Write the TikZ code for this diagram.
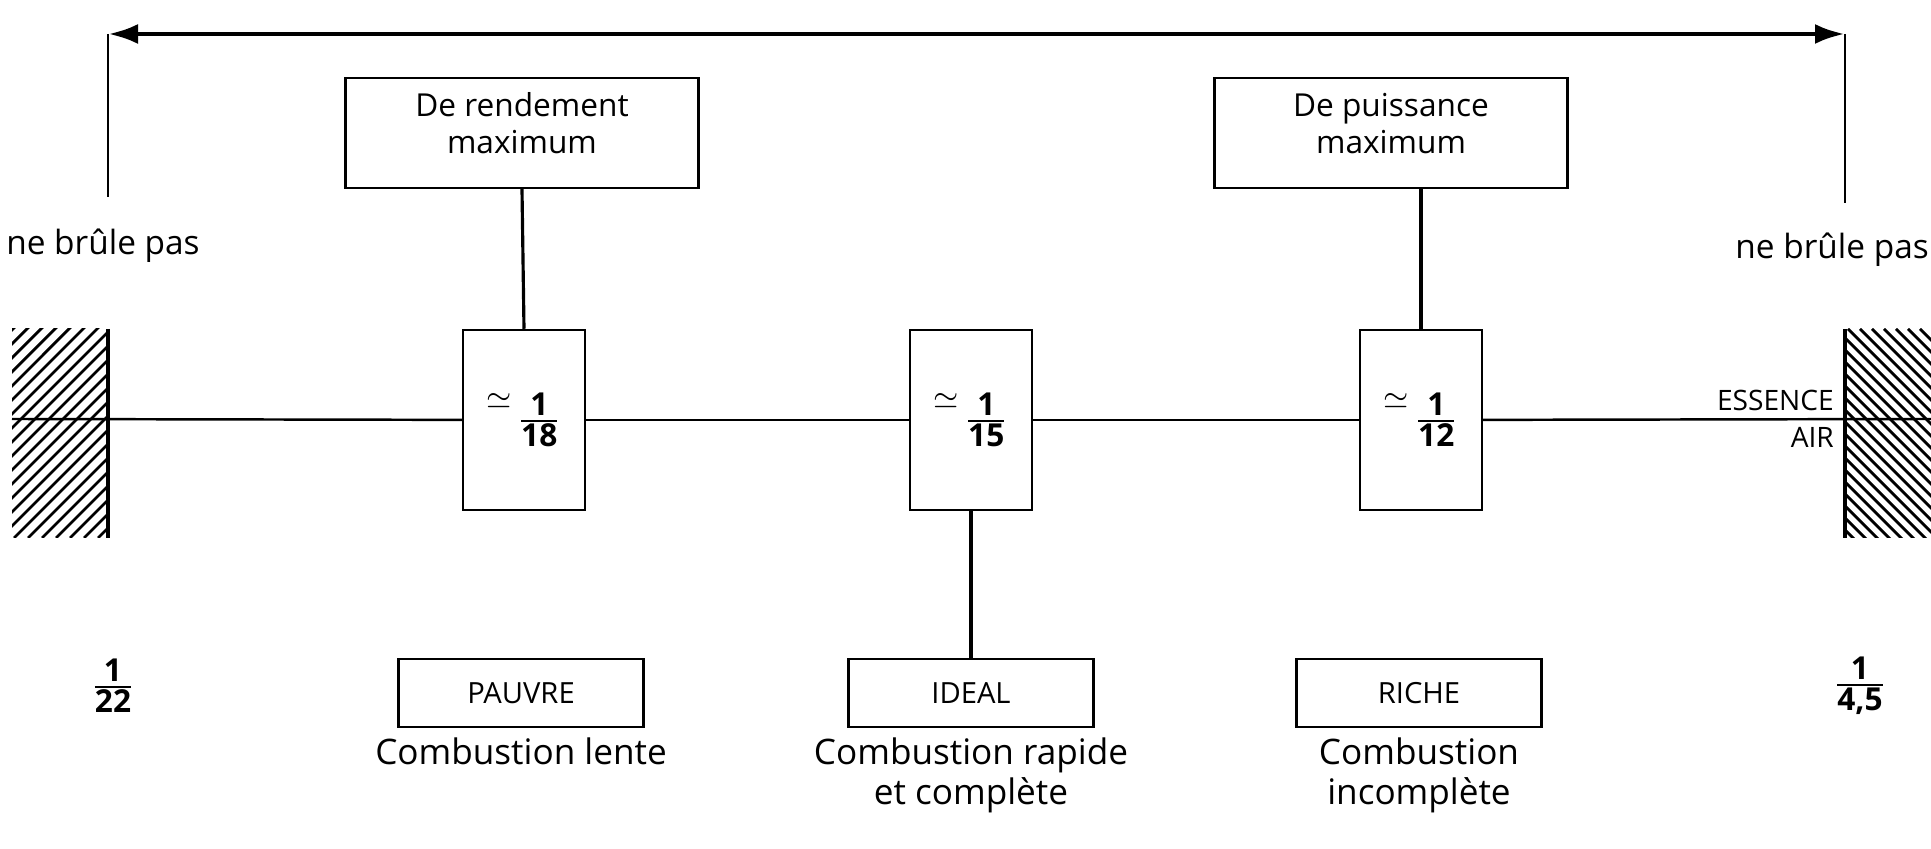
\documentclass[tikz,border=0pt]{standalone}
\usepackage{fontspec}
\setmainfont{Open Sans}
\usepackage{amsmath}
\usetikzlibrary{arrows.meta, positioning}

\newcommand{\mixfrac}[2]{$\genfrac{}{}{0.6pt}{1}{\hbox{\bfseries #1}}{\hbox{\bfseries #2}}$}

\begin{document}
\begin{tikzpicture}[x=0.1mm, y=-0.1mm, line width=0.7pt,
    every node/.style={font=\fontsize{9.5}{11}\selectfont},
    topbox/.style={draw, minimum width=35.3mm, minimum height=11mm, align=center,
        text depth=2mm, font=\fontsize{9}{10.5}\selectfont},
    ratiobox/.style={draw, minimum width=12.2mm, minimum height=18mm, inner sep=0pt,
        font=\fontsize{9}{10}\selectfont},
    mixbox/.style={draw, minimum width=24.5mm, minimum height=6.8mm,
        font=\fontsize{8.3}{9}\selectfont},
    caption/.style={align=center, inner sep=0pt, font=\fontsize{10}{11.5}\selectfont},
    caps/.style={anchor=east, inner sep=0pt, font=\fontsize{8}{9}\selectfont},
    link/.style={line width=0.9pt},
    hatch/.style={line width=0.8pt}]
    \useasboundingbox (0,0) rectangle (1931,849);

    % limites d'inflammabilite
    \coordinate (limL) at (108,34);
    \coordinate (limR) at (1845,34);
    \coordinate (limLb) at (108,197);
    \coordinate (limRb) at (1845,203);
    \draw[line width=1.4pt, {Latex[length=3mm,width=2mm]}-{Latex[length=3mm,width=2mm]}] (limL) -- (limR);
    \draw (limL) -- (limLb);
    \draw (limR) -- (limRb);
    \node (burnL) at (103,246) {ne brûle pas};
    \node[anchor=east, inner sep=0pt] (burnR) at (1930,250) {ne brûle pas};

    % zones hachurees
    \begin{scope}
        \clip (12,329) rectangle (108,538);
        \foreach \k in {0,...,22}
            \draw[hatch] (\k*14-210,538) -- ++(320,-320);
    \end{scope}
    \begin{scope}
        \clip (1845,329) rectangle (1931,538);
        \foreach \k in {0,...,26}
            \draw[hatch] (1620+\k*12,329) -- ++(320,320);
    \end{scope}
    \draw[line width=1.3pt] (108,329) -- (108,538);
    \draw[line width=1.3pt] (1845,329) -- (1845,538);

    % boites
    \node[topbox] (rendement) at (522,133) {De rendement\\maximum};
    \node[topbox] (puissance) at (1391,133) {De puissance\\maximum};
    \node[ratiobox] (r18) at (524,420) {\raisebox{1.2ex}{$\simeq$}\,\mixfrac{1}{18}};
    \node[ratiobox] (r15) at (971,420) {\raisebox{1.2ex}{$\simeq$}\,\mixfrac{1}{15}};
    \node[ratiobox] (r12) at (1421,420) {\raisebox{1.2ex}{$\simeq$}\,\mixfrac{1}{12}};
    \node[mixbox] (pauvre) at (521,693) {PAUVRE};
    \node[mixbox] (ideal) at (971,693) {IDEAL};
    \node[mixbox] (riche) at (1419,693) {RICHE};
    \node[caption, below=0.8mm of pauvre] (lente) {Combustion lente};
    \node[caption, below=0.8mm of ideal] (rapide) {Combustion rapide\\et complète};
    \node[caption, below=0.8mm of riche] (incomplete) {Combustion\\incomplète};

    % rapport essence / air
    \coordinate (axL) at (12,419);
    \coordinate (axR) at (1931,419);
    \draw (axL) -- (r18);
    \draw (r18) -- (r15);
    \draw (r15) -- (r12);
    \draw (r12) -- (axR);
    \node[caps] (essence) at (1835,400) {ESSENCE};
    \node[caps] (air) at (1835,437) {AIR};
    \node[font=\fontsize{9}{10}\selectfont] (lean) at (113,686) {\mixfrac{1}{22}};
    \node[font=\fontsize{9}{10}\selectfont] (rich) at (1860,686) {\mixfrac{1}{4,5}};

    % liaisons
    \draw[link] (rendement.south) -- (r18.north);
    \draw[link] (puissance.south -| r12.north) -- (r12.north);
    \draw[link] (r15.south) -- (ideal.north);
\end{tikzpicture}
\end{document}
